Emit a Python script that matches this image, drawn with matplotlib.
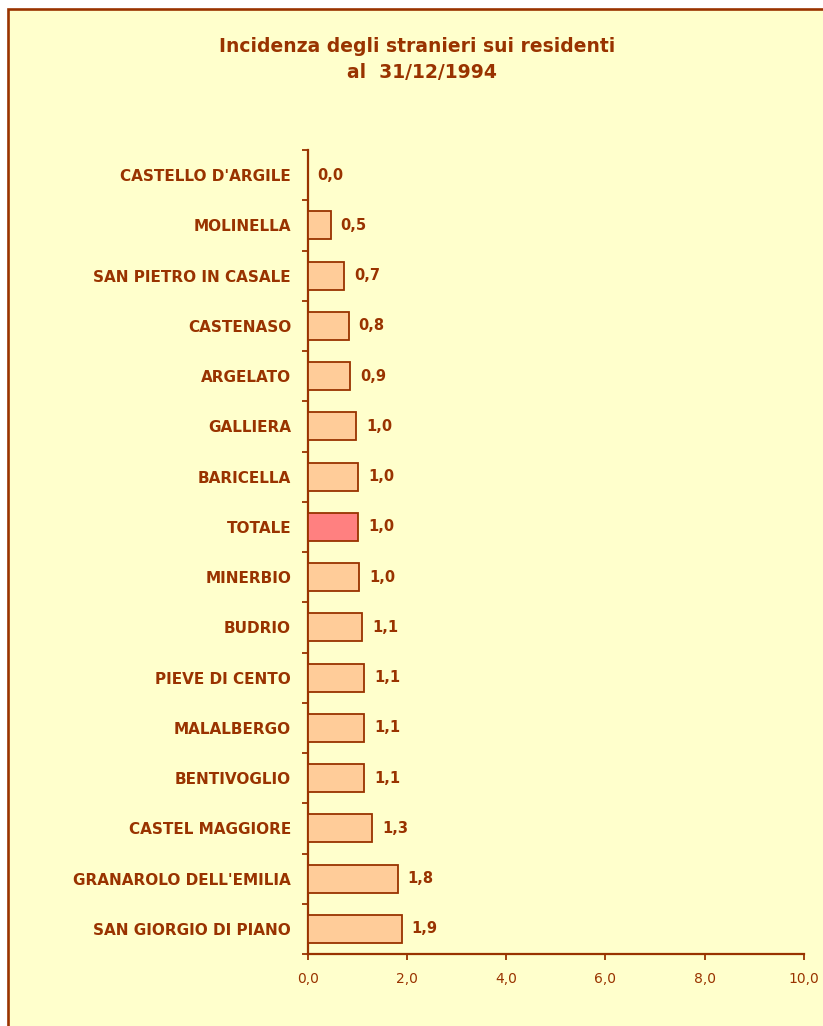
import matplotlib
matplotlib.use("Agg")
import matplotlib.pyplot as plt
import numpy as np
from matplotlib.patches import Rectangle

# data, top to bottom as in the chart
comuni = ["CASTELLO D'ARGILE", "MOLINELLA", "SAN PIETRO IN CASALE", "CASTENASO",
          "ARGELATO", "GALLIERA", "BARICELLA", "TOTALE", "MINERBIO", "BUDRIO",
          "PIEVE DI CENTO", "MALALBERGO", "BENTIVOGLIO", "CASTEL MAGGIORE",
          "GRANAROLO DELL'EMILIA", "SAN GIORGIO DI PIANO"]
incidenza = [0.00, 0.47, 0.74, 0.83, 0.86, 0.98, 1.02, 1.02, 1.04, 1.10,
             1.14, 1.14, 1.14, 1.30, 1.82, 1.90]
xticks = [0, 2, 4, 6, 8, 10]

BROWN = "#993300"
BG = "#FFFFCC"
BAR = "#FFCC99"
BAR_TOT = "#FF8080"

fig = plt.figure(figsize=(8.23, 10.26), dpi=100, facecolor="white")
W, H = 823, 1026

# frame (left/top border visible, rest runs off the picture)
frame = Rectangle((8 / W, -0.1), 1.2, 1.1 - 9 / H, transform=fig.transFigure,
                  facecolor=BG, edgecolor=BROWN, linewidth=1.9, zorder=-10)
fig.patches.append(frame)

ax = fig.add_axes([307.7 / W, 1 - 954 / H, (804 - 307.7) / W, (954 - 150) / H])
ax.set_facecolor("none")
ax.set_zorder(1)

y = np.arange(len(comuni))
colors = [BAR_TOT if c == "TOTALE" else BAR for c in comuni]
ax.barh(y, incidenza, height=0.56, color=colors, edgecolor=BROWN, linewidth=1.3, zorder=3)

for yi, v in zip(y, incidenza):
    ax.annotate(f"{v:.1f}".replace(".", ","), (v, yi), xytext=(7, 0),
                textcoords="offset points", va="center", ha="left",
                fontsize=10.5, fontweight="bold", color=BROWN)

ax.set_xlim(0, 10)
ax.set_ylim(len(comuni) - 0.5, -0.5)

ax.set_xticks(xticks)
ax.set_xticklabels([f"{t:.1f}".replace(".", ",") for t in xticks])
ax.set_yticks(y)
ax.set_yticklabels(comuni)
ax.set_yticks(np.arange(len(comuni) + 1) - 0.5, minor=True)

ax.tick_params(axis="y", which="major", length=0, pad=12, labelsize=11,
               labelcolor=BROWN)
ax.tick_params(axis="y", which="minor", length=4, width=1.3, color=BROWN, direction="out")
ax.tick_params(axis="x", length=4, width=1.3, color=BROWN, direction="out",
               pad=9, labelsize=10, labelcolor=BROWN)
for lbl in ax.get_yticklabels():
    lbl.set_fontweight("bold")

for s in ["top", "right"]:
    ax.spines[s].set_visible(False)
for s in ["left", "bottom"]:
    ax.spines[s].set_color(BROWN)
    ax.spines[s].set_linewidth(1.6)

fig.text(417 / W, 1 - 47 / H, "Incidenza degli stranieri sui residenti",
         ha="center", va="center", fontsize=13.5, fontweight="bold", color=BROWN)
fig.text(422 / W, 1 - 73 / H, "al  31/12/1994",
         ha="center", va="center", fontsize=13.5, fontweight="bold", color=BROWN)

fig.savefig("out.png", dpi=100, facecolor="white")
